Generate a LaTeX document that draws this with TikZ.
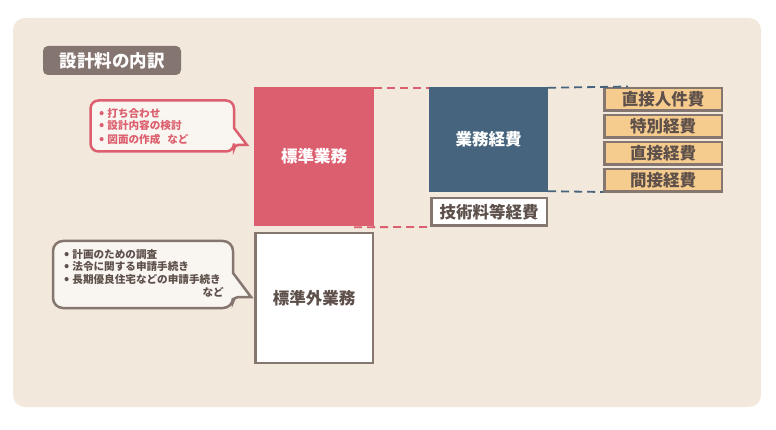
\documentclass[tikz,border=0pt]{standalone}
\usepackage{fontspec}
\setmainfont{Noto Sans CJK JP}
\usetikzlibrary{calc}
\definecolor{bgbeige}{HTML}{F2E8DB}
\definecolor{tagbrown}{HTML}{857570}
\definecolor{stdred}{HTML}{DC5F6F}
\definecolor{costblue}{HTML}{46647D}
\definecolor{itemorange}{HTML}{F5CB8E}
\definecolor{framebrown}{HTML}{85766F}
\definecolor{bubblefill}{HTML}{F9F5F0}
\definecolor{textbrown}{HTML}{5E504A}
\newcommand{\bubblebullet}{\smash{\fontsize{13}{10}\selectfont •}\hspace{3pt}}
\begin{document}
\begin{tikzpicture}[x=1pt,y=-1pt,
  boxtext/.style={font=\bfseries\fontsize{16.5}{17}\selectfont},
  solidbox/.style={boxtext, inner sep=0, text=white},
  framebox/.style={boxtext, inner sep=0, draw=framebrown, line width=2.5pt, text=textbrown},
  itembox/.style={framebox, fill=itemorange, minimum width=117.5, minimum height=22.5},
  reddash/.style={draw=stdred, line width=1.8pt, dash pattern=on 8pt off 5pt},
  bluedash/.style={draw=costblue, line width=1.8pt, dash pattern=on 8pt off 5pt},
  bubbletext/.style={font=\bfseries\fontsize{10.6}{11}\selectfont, inner sep=0, anchor=west},
]
\useasboundingbox (0,0) rectangle (776,430);
\fill[white] (0,0) rectangle (776,430);
\fill[bgbeige, rounded corners=12] (13,18) rectangle (761,407);

% title tag
\node[fill=tagbrown, rounded corners=5, minimum width=138, minimum height=29, inner sep=0,
      text=white, font=\bfseries\fontsize{17.5}{18}\selectfont] (title) at (112,60.5) {設計料の内訳};

% main boxes
\node[solidbox, fill=stdred, minimum width=120, minimum height=139] (std) at (314,156.5) {標準業務};
\node[solidbox, fill=costblue, minimum width=119, minimum height=105] (cost) at (488.5,139.5) {業務経費};
\node[framebox, fill=white, minimum width=115.5, minimum height=27.5] (tech) at (489,212) {技術料等経費};
\node[framebox, fill=white, minimum width=117.5, minimum height=129.5] (nonstd) at (314,298) {標準外業務};

% item boxes
\node[itembox] (i1) at (663,99.5) {直接人件費};
\node[itembox] (i2) at (663,126.5) {特別経費};
\node[itembox] (i3) at (663,153.5) {直接経費};
\node[itembox] (i4) at (663,180.5) {間接経費};

% dashed connectors
\draw[reddash] ($(std.north east)+(0,1)$) -- ($(cost.north west)+(0,1)$);
\draw[reddash] ($(std.south east)+(-20,1)$) -- (tech.south west);
\draw[bluedash] ($(cost.north east)+(0,1)$) -- ($(i1.north west)+(25,-0.5)$);
\draw[bluedash] ($(cost.south east)+(0,-1)$) -- ($(i4.south west)+(0,-1)$);

% pink bubble
\draw[draw=stdred, fill=bubblefill, line width=2.5pt]
  (234,128) [rounded corners=8] -- (234,100.5) -- (90.5,100.5) -- (90.5,151.5) -- (234,151.5)
  [rounded corners=4] -- (234,145) [sharp corners] -- (247,145) -- cycle;
\node[bubbletext, text=stdred] (p1) at (99,113) {\bubblebullet 打ち合わせ};
\node[bubbletext, text=stdred] (p2) at (99,126) {\bubblebullet 設計内容の検討};
\node[bubbletext, text=stdred] (p3) at (99,139) {\bubblebullet 図面の作成\hspace{7pt}など};

% brown bubble
\draw[draw=framebrown, fill=bubblefill, line width=2.5pt]
  (233,273) [rounded corners=10] -- (233,241) -- (53,241) -- (53,308) -- (233,308)
  [rounded corners=5] -- (233,297) [sharp corners] -- (251,297) -- cycle;
\node[bubbletext, text=textbrown] (b1) at (64,254) {\bubblebullet 計画のための調査};
\node[bubbletext, text=textbrown] (b2) at (64,266.5) {\bubblebullet 法令に関する申請手続き};
\node[bubbletext, text=textbrown] (b3) at (64,279) {\bubblebullet 長期優良住宅などの申請手続き};
\node[bubbletext, text=textbrown, anchor=east] (b4) at (224,292) {など};
\end{tikzpicture}
\end{document}
